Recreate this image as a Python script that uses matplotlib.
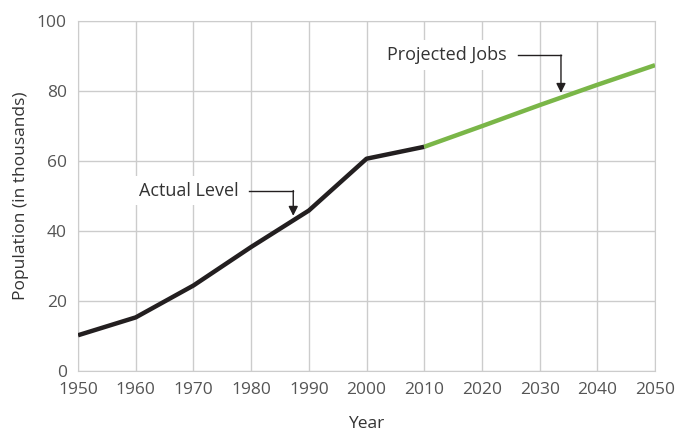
import matplotlib.pyplot as plt

# Population series (thousands)
actual_years = [1950, 1960, 1970, 1980, 1990, 2000, 2010]
actual_values = [10.2, 15.3, 24.4, 35.4, 45.8, 60.6, 64.0]
projected_years = [2010, 2020, 2030, 2040, 2050]
projected_values = [64.0, 69.9, 75.9, 81.7, 87.3]

x_ticks = list(range(1950, 2051, 10))
y_ticks = [0, 20, 40, 60, 80, 100]

plt.rcParams['font.family'] = ['Open Sans', 'DejaVu Sans']

fig = plt.figure(figsize=(6.93, 4.34), dpi=100)
ax = fig.add_axes([0.1126, 0.1452, 0.8326, 0.8071])

grid_c = '#cccccc'
ax.plot(actual_years, actual_values, color='#231f20', lw=3.2, solid_capstyle='butt', zorder=3)
ax.plot(projected_years, projected_values, color='#7ab648', lw=3.2, solid_capstyle='butt', zorder=3)

ax.set_xlim(1950, 2050)
ax.set_ylim(0, 100)
ax.set_xticks(x_ticks)
ax.set_yticks(y_ticks)
ax.grid(True, color=grid_c, lw=1)
ax.set_axisbelow(True)
for s in ax.spines.values():
    s.set_color(grid_c)
ax.tick_params(length=0, labelsize=12.5, labelcolor='#555555', pad=8)

ax.set_xlabel('Year', fontsize=12.5, color='#333333', labelpad=13)
ax.set_ylabel('Population (in thousands)', fontsize=12.5, color='#333333', labelpad=6)

box = dict(facecolor='white', edgecolor='none', pad=4)
arrow = dict(arrowstyle='-|>', color='#231f20', lw=1, mutation_scale=14, shrinkA=0, shrinkB=0)

# "Actual Level" callout
ax.text(1969.2, 51.5, 'Actual Level', fontsize=13, color='#333333', ha='center', va='center', bbox=box, zorder=4)
ax.plot([1979.6, 1987.3], [51.5, 51.5], color='#231f20', lw=1, zorder=4)
ax.annotate('', xy=(1987.3, 44.3), xytext=(1987.3, 51.5), arrowprops=arrow, zorder=4)

# "Projected Jobs" callout
ax.text(2013.9, 90.2, 'Projected Jobs', fontsize=13, color='#333333', ha='center', va='center', bbox=box, zorder=4)
ax.plot([2026.2, 2033.7], [90.2, 90.2], color='#231f20', lw=1, zorder=4)
ax.annotate('', xy=(2033.7, 79.4), xytext=(2033.7, 90.2), arrowprops=arrow, zorder=4)

fig.savefig('out.png', dpi=100)
